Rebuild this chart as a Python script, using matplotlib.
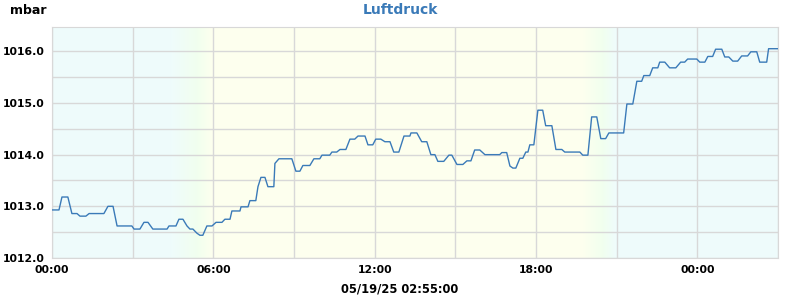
import numpy as np
import matplotlib
matplotlib.use('Agg')
from matplotlib import pyplot as plt
from matplotlib.ticker import MultipleLocator, FormatStrFormatter

# Luftdruck, Stunden ab 00:00 des Vortages
hours = [0.0, 0.26, 0.37, 0.59, 0.74, 0.93, 1.04, 1.26, 1.38, 1.93, 2.08, 2.27, 2.42, 2.97,
         3.05, 3.27, 3.42, 3.57, 3.75, 4.28, 4.35, 4.61, 4.72, 4.87, 5.02, 5.13, 5.24, 5.39,
         5.50, 5.61, 5.76, 5.95, 6.10, 6.32, 6.43, 6.62, 6.69, 6.99, 7.03, 7.29, 7.36, 7.58,
         7.66, 7.77, 7.92, 8.03, 8.25, 8.29, 8.44, 8.92, 9.07, 9.22, 9.33, 9.59, 9.74, 9.96,
         10.04, 10.33, 10.41, 10.59, 10.71, 10.93, 11.08, 11.26, 11.38, 11.64, 11.75, 11.93,
         12.04, 12.23, 12.38, 12.57, 12.71, 12.90, 13.09, 13.31, 13.35, 13.57, 13.75, 13.94,
         14.09, 14.24, 14.35, 14.57, 14.76, 14.87, 15.06, 15.28, 15.43, 15.58, 15.72, 15.91,
         16.10, 16.65, 16.73, 16.91, 17.03, 17.14, 17.25, 17.40, 17.51, 17.62, 17.70, 17.77,
         17.92, 18.07, 18.25, 18.36, 18.59, 18.74, 18.96, 19.07, 19.63, 19.74, 19.93, 20.07,
         20.26, 20.41, 20.59, 20.71, 21.26, 21.38, 21.60, 21.75, 21.93, 22.01, 22.23, 22.34,
         22.53, 22.60, 22.79, 22.97, 23.20, 23.38, 23.53, 23.64, 23.98, 24.09, 24.28, 24.39,
         24.57, 24.68, 24.91, 25.02, 25.17, 25.32, 25.50, 25.65, 25.87, 25.99, 26.21, 26.32,
         26.58, 26.65, 26.99]
mbar = [1012.93, 1012.93, 1013.18, 1013.18, 1012.86, 1012.86, 1012.81, 1012.81, 1012.86, 1012.86,
        1013.00, 1013.00, 1012.62, 1012.62, 1012.56, 1012.56, 1012.69, 1012.69, 1012.56, 1012.56,
        1012.62, 1012.62, 1012.75, 1012.75, 1012.62, 1012.56, 1012.56, 1012.48, 1012.44, 1012.44,
        1012.62, 1012.62, 1012.69, 1012.69, 1012.75, 1012.75, 1012.91, 1012.91, 1012.99, 1012.99,
        1013.11, 1013.11, 1013.38, 1013.56, 1013.56, 1013.38, 1013.38, 1013.83, 1013.92, 1013.92,
        1013.68, 1013.68, 1013.79, 1013.79, 1013.92, 1013.92, 1013.99, 1013.99, 1014.05, 1014.05,
        1014.10, 1014.10, 1014.30, 1014.30, 1014.36, 1014.36, 1014.19, 1014.19, 1014.30, 1014.30,
        1014.25, 1014.25, 1014.05, 1014.05, 1014.36, 1014.36, 1014.42, 1014.42, 1014.25, 1014.25,
        1014.00, 1014.00, 1013.87, 1013.87, 1013.99, 1013.99, 1013.81, 1013.81, 1013.88, 1013.88,
        1014.09, 1014.09, 1014.00, 1014.00, 1014.04, 1014.04, 1013.78, 1013.74, 1013.74, 1013.93,
        1013.93, 1014.05, 1014.05, 1014.19, 1014.19, 1014.86, 1014.86, 1014.56, 1014.56, 1014.10,
        1014.10, 1014.05, 1014.05, 1013.99, 1013.99, 1014.73, 1014.73, 1014.31, 1014.31, 1014.42,
        1014.42, 1014.98, 1014.98, 1015.42, 1015.42, 1015.53, 1015.53, 1015.68, 1015.68, 1015.79,
        1015.79, 1015.68, 1015.68, 1015.79, 1015.79, 1015.85, 1015.85, 1015.79, 1015.79, 1015.90,
        1015.90, 1016.04, 1016.04, 1015.89, 1015.89, 1015.81, 1015.81, 1015.91, 1015.91, 1015.99,
        1015.99, 1015.79, 1015.79, 1016.05, 1016.05]

x_ticks = [0, 6, 12, 18, 24]
x_labels = ['00:00', '06:00', '12:00', '18:00', '00:00']
stamp = '05/19/25 02:55:00'

# Hintergrund: Nacht (cyan) -> Daemmerung (gruen) -> Tag (gelb)
night = np.array([0.937, 0.988, 0.988])
dusk = np.array([0.945, 1.0, 0.937])
day = np.array([0.996, 1.0, 0.937])
stops = [0, 4.4, 5.4, 6.0, 19.7, 20.5, 21.0, 27.0]
cols = [night, night, dusk, day, day, dusk, night, night]
xs = np.linspace(0, 27, 800)
bg = np.stack([np.interp(xs, stops, [c[i] for c in cols]) for i in range(3)], axis=-1)[None, :, :]

fig = plt.figure(figsize=(8, 3), dpi=100)
ax = fig.add_axes([0.065, 0.14, 0.9075, 0.77])
ax.imshow(bg, extent=[0, 27, 1012.0, 1016.47], aspect='auto', zorder=0)

ax.plot(hours, mbar, color='#3a7ab8', lw=1.0, zorder=3)

ax.set_xlim(0, 27)
ax.set_ylim(1012.0, 1016.47)
ax.set_xticks(x_ticks)
ax.set_xticklabels(x_labels)
ax.xaxis.set_minor_locator(MultipleLocator(3))
ax.yaxis.set_major_locator(MultipleLocator(1))
ax.yaxis.set_minor_locator(MultipleLocator(0.5))
ax.yaxis.set_major_formatter(FormatStrFormatter('%.1f'))
ax.grid(which='both', color='#d8d8d8', lw=1.0, zorder=1)
ax.set_axisbelow(False)
ax.tick_params(which='both', length=0)
ax.tick_params(axis='y', pad=5)
ax.tick_params(axis='x', pad=5)
for lbl in ax.get_xticklabels() + ax.get_yticklabels():
    lbl.set_fontweight('bold')
    lbl.set_fontsize(7.8)
for s in ax.spines.values():
    s.set_color('#d8d8d8')

fig.text(0.5, 0.965, 'Luftdruck', ha='center', va='center', fontsize=10,
         fontweight='bold', color='#3a7ab8')
fig.text(0.012, 0.965, 'mbar', ha='left', va='center', fontsize=9, fontweight='bold')
fig.text(0.5, 0.035, stamp, ha='center', va='center', fontsize=8.3, fontweight='bold')

fig.savefig('out.png', dpi=100)
